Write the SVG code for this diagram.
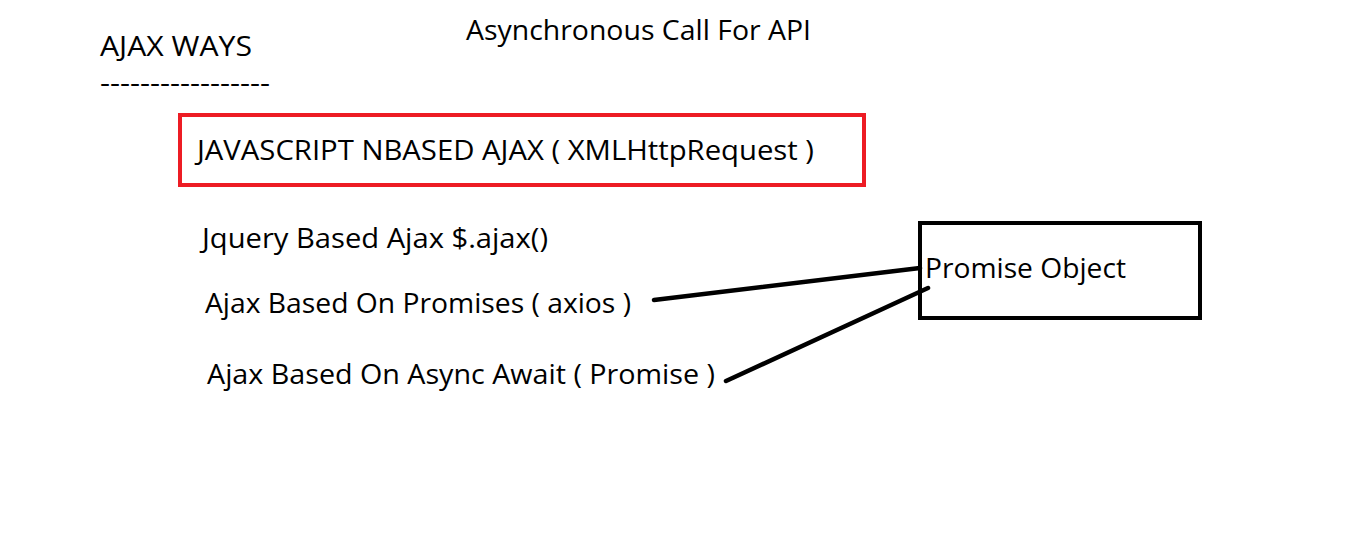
<svg xmlns="http://www.w3.org/2000/svg" width="1360" height="552" viewBox="0 0 1360 552">
<style>
text{font-family:"Open Sans","Noto Sans","Liberation Sans",sans-serif;font-size:28px;fill:#000}
.box{fill:none;stroke-width:4}
.conn{stroke:#000;stroke-width:4.5;stroke-linecap:round;fill:none}
</style>
<rect width="1360" height="552" fill="#fff"/>
<g id="title"><text x="466" y="40" textLength="345" lengthAdjust="spacingAndGlyphs">Asynchronous Call For API</text></g>
<g id="heading">
<text x="100" y="56" textLength="152" lengthAdjust="spacingAndGlyphs">AJAX WAYS</text>
<text x="100" y="92" textLength="170" lengthAdjust="spacingAndGlyphs">-----------------</text>
</g>
<g id="js-ajax">
<rect class="box" x="180" y="115" width="684" height="70" stroke="#ED1C24"/>
<text x="197" y="160" textLength="617" lengthAdjust="spacingAndGlyphs">JAVASCRIPT NBASED AJAX ( XMLHttpRequest )</text>
</g>
<g id="jquery"><text x="202" y="248" textLength="346" lengthAdjust="spacingAndGlyphs">Jquery Based Ajax $.ajax()</text></g>
<g id="axios"><text x="205" y="313" textLength="426" lengthAdjust="spacingAndGlyphs">Ajax Based On Promises ( axios )</text></g>
<g id="async"><text x="207" y="384" textLength="508" lengthAdjust="spacingAndGlyphs">Ajax Based On Async Await ( Promise )</text></g>
<g id="promise">
<rect class="box" x="920" y="223" width="280" height="95" stroke="#000"/>
<text x="925" y="278" textLength="201" lengthAdjust="spacingAndGlyphs">Promise Object</text>
</g>
<g id="connectors">
<line class="conn" x1="654" y1="300" x2="920" y2="268"/>
<line class="conn" x1="726" y1="381" x2="928" y2="288"/>
</g>
</svg>
